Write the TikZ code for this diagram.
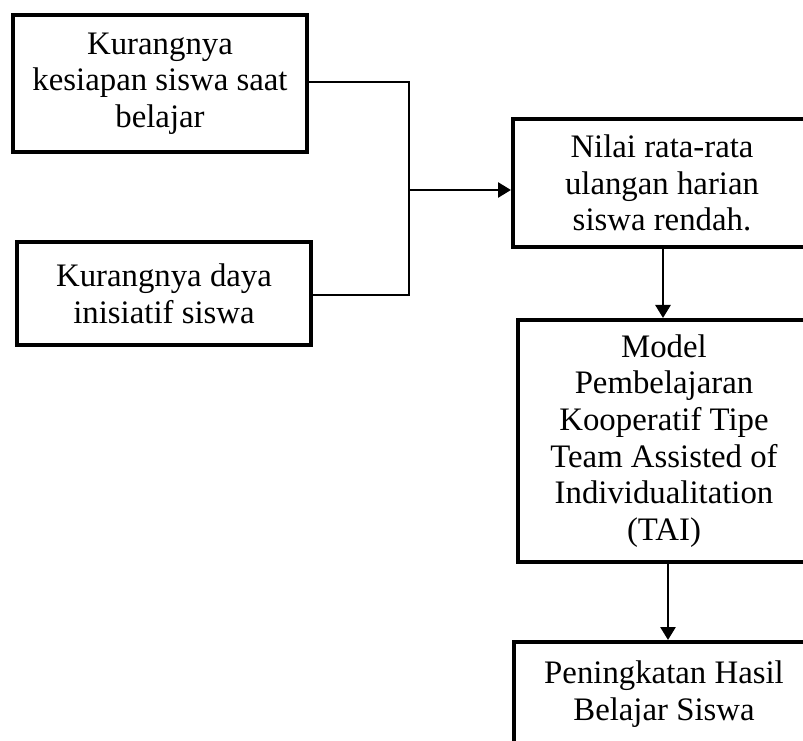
\documentclass[tikz,border=0pt]{standalone}
\usepackage{fontspec}
\setmainfont{Liberation Serif}
\usetikzlibrary{arrows.meta,calc}
\begin{document}
\begin{tikzpicture}[x=1pt,y=1pt,
  boxnode/.style={draw=black,line width=4pt,align=center,inner sep=0pt,
    font=\fontsize{32.8}{36.7}\selectfont},
  conn/.style={draw=black,line width=2.7pt},
  arr/.style={conn,-{Triangle[length=13pt,width=15pt]}}]
\useasboundingbox (0,0) rectangle (803,740);
\clip (0,0) rectangle (803,740);
\fill[white] (0,0) rectangle (803,740);
\node[boxnode,minimum width=293.5pt,minimum height=137pt] (b1) at (160,656.5)
  {Kurangnya\\kesiapan siswa saat\\belajar};
\node[boxnode,minimum width=294pt,minimum height=103pt] (b2) at (164,446.5)
  {Kurangnya daya\\inisiatif siswa};
\node[boxnode,minimum width=298pt,minimum height=128pt] (b3) at (662,557)
  {Nilai rata-rata\\ulangan harian\\siswa rendah.};
\node[boxnode,minimum width=292pt,minimum height=242pt] (b4) at (664,299)
  {Model\\Pembelajaran\\Kooperatif Tipe\\Team Assisted of\\Individualitation\\(TAI)};
\node[boxnode,minimum width=300pt,minimum height=104pt] (b5) at (664,46)
  {Peningkatan Hasil\\Belajar Siswa};
\coordinate (jt) at (409,658);
\coordinate (jb) at (409,445);
\coordinate (j) at (409,550);
\draw[conn] (b1.east |- jt) -- (jt) -- (jb) -- (b2.east |- jb);
\draw[arr] (j) -- (j -| b3.west);
\draw[arr] ([xshift=1pt]b3.south) -- ([xshift=1pt]b3.south |- b4.north);
\draw[arr] ([xshift=4pt]b4.south) -- ([xshift=4pt]b4.south |- b5.north);
\end{tikzpicture}
\end{document}
